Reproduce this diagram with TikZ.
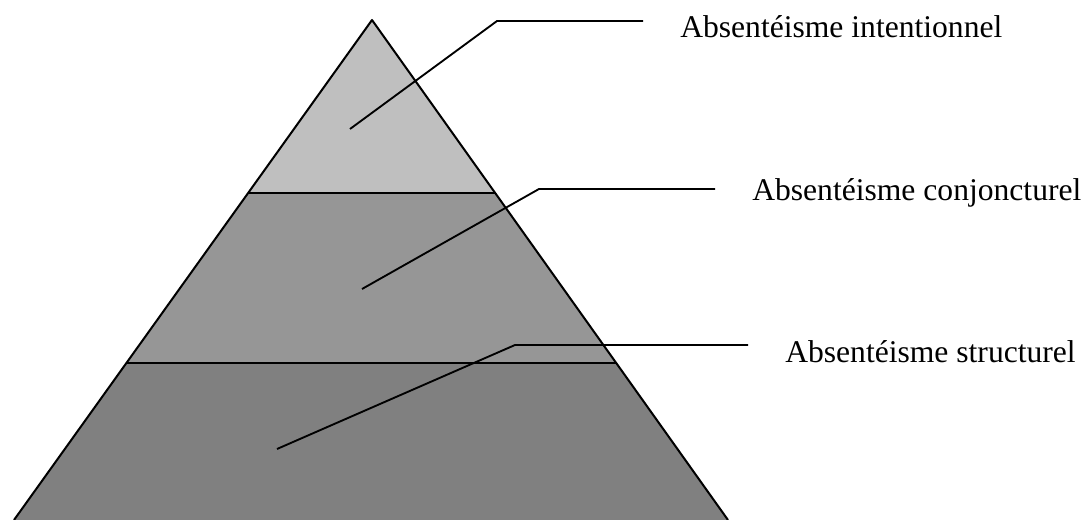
\documentclass[tikz,border=0pt]{standalone}
\usepackage{fontspec}
\setmainfont{Liberation Serif}
\usetikzlibrary{calc}

\begin{document}
\begin{tikzpicture}[x=0.75pt, y=-0.75pt, line join=round,
    layer/.style={line width=1.5pt},
    leader/.style={line width=1.4pt},
    lbl/.style={anchor=base west, inner sep=0pt, font=\fontsize{23.7}{28}\selectfont}]
    \useasboundingbox (0,0) rectangle (1085,520);
    \coordinate (apex) at (372,20);
    \coordinate (bl) at (14,520);
    \coordinate (br) at (728,520);
    \coordinate (l1) at ($(apex)!0.346!(bl)$);
    \coordinate (r1) at ($(apex)!0.346!(br)$);
    \coordinate (l2) at ($(apex)!0.686!(bl)$);
    \coordinate (r2) at ($(apex)!0.686!(br)$);
    % pyramid layers
    \fill[black!25] (apex) -- (l1) -- (r1) -- cycle;
    \fill[black!41] (l1) -- (l2) -- (r2) -- (r1) -- cycle;
    \fill[black!50] (l2) -- (bl) -- (br) -- (r2) -- cycle;
    \draw[layer] (bl) -- (apex) -- (br);
    \draw[layer] (l1) -- (r1);
    \draw[layer] (l2) -- (r2);
    % labels
    \node[lbl] (intent) at (680,38) {Absentéisme intentionnel};
    \node[lbl] (conj) at (752,201) {Absentéisme conjoncturel};
    \node[lbl] (struct) at (785,362) {Absentéisme structurel};
    \coordinate (e1) at (643,21);
    \coordinate (e2) at (715,189);
    \coordinate (e3) at (748,345);
    \draw[leader] (350,129) -- (497,21) -- (e1);
    \draw[leader] (362,289) -- (539,189) -- (e2);
    \draw[leader] (277,449) -- (515,345) -- (e3);
\end{tikzpicture}
\end{document}
